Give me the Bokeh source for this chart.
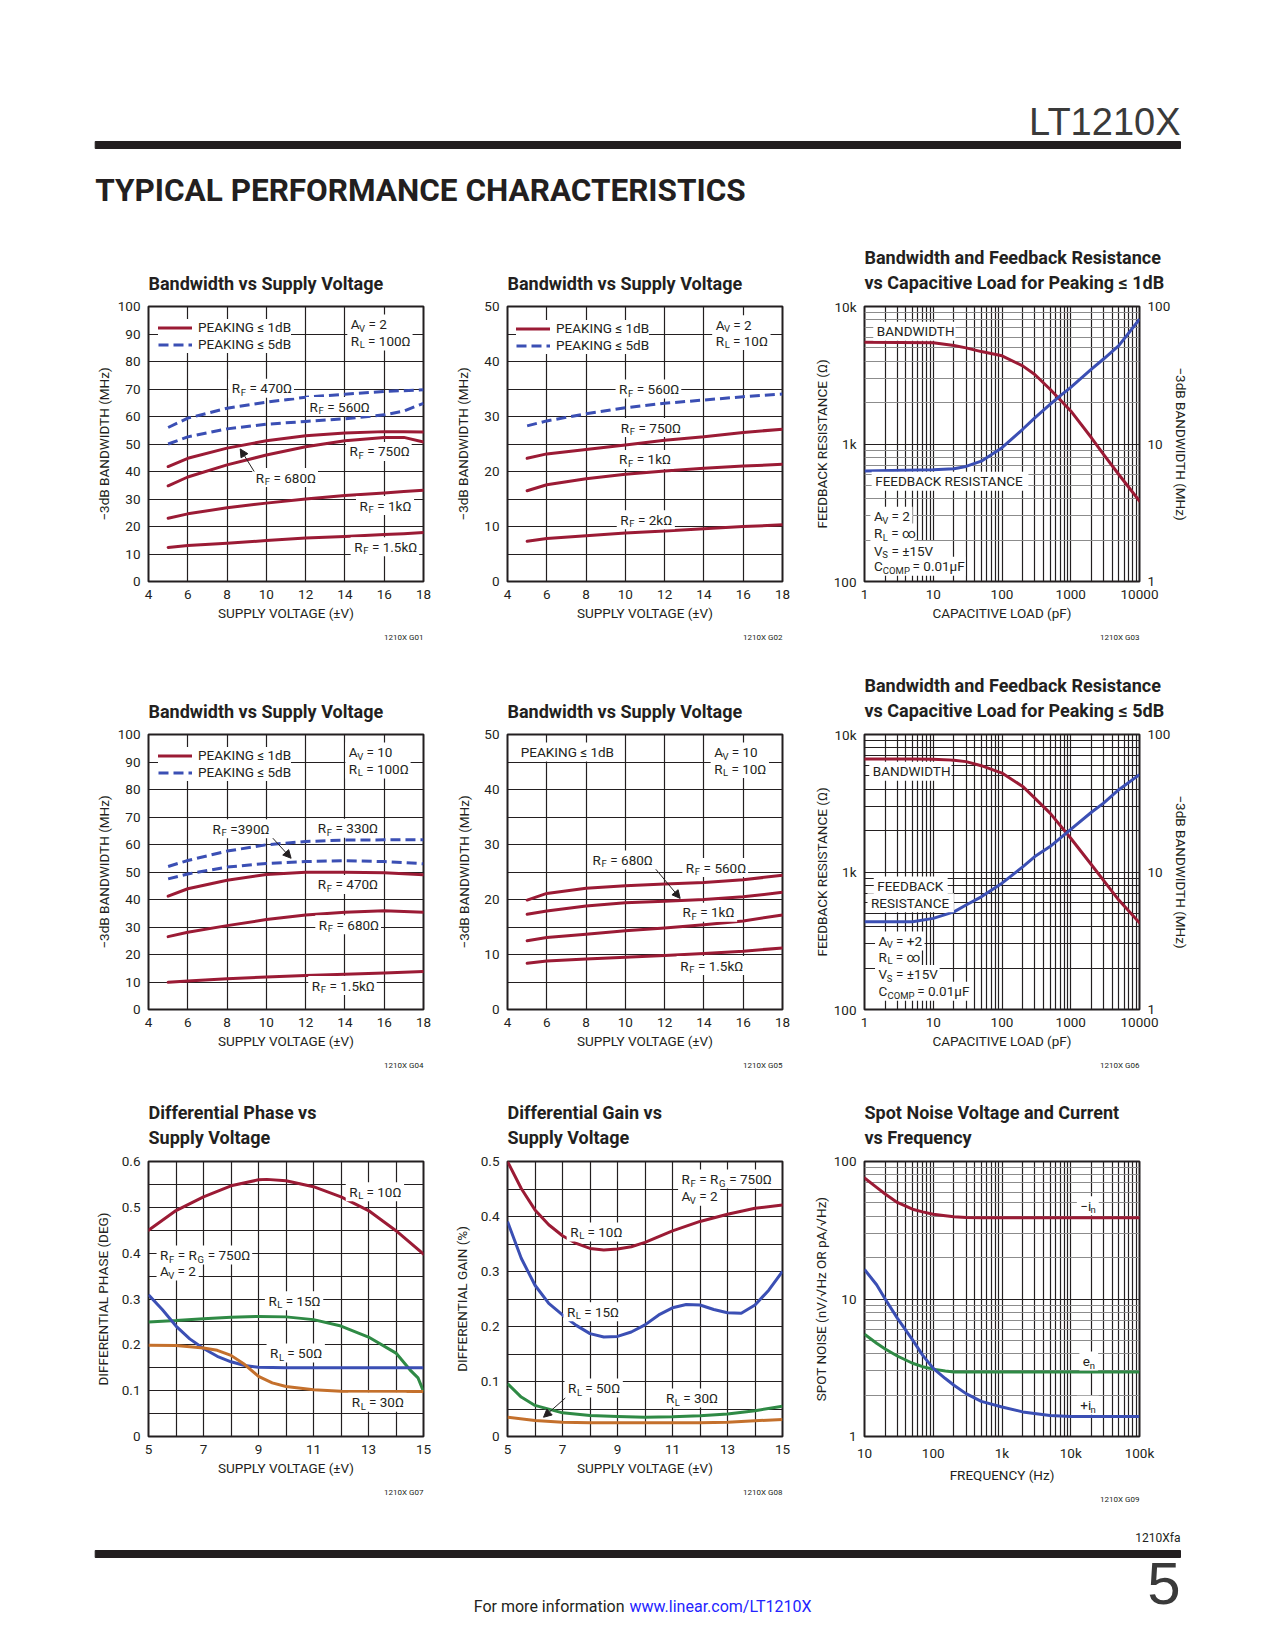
import re
import math
from bokeh.plotting import figure
from bokeh.models import (Range1d, FixedTicker, LogAxis, LogScale, Title, Legend,
                          LegendItem, Arrow, NormalHead, ColumnDataSource)
from bokeh.layouts import column, row
from bokeh.core.properties import value
from bokeh.embed import file_html
from bokeh.resources import INLINE

FONT = "Roboto"
WIDEFONT = "Liberation Sans"
TXT = "#231f20"
RED = "#9b1b35"
BLUE = "#3b4fb4"
GREEN = "#2f8a45"
ORANGE = "#c4702c"
LINK = "#2323ff"

# ------------------------------------------------------------------ data
# G01  Bandwidth vs Supply Voltage, AV=2, RL=100
V1 = [5, 6, 8, 10, 12, 14, 16, 17, 18]
G1_RF470_5DB = [56.0, 59.4, 63.0, 65.2, 67.0, 68.1, 69.1, 69.4, 69.7]
G1_RF560_5DB = [50.0, 52.6, 55.5, 57.2, 58.2, 59.2, 60.6, 62.0, 64.8]
G1_RF680_1DB = [41.8, 44.8, 48.5, 51.2, 53.0, 54.0, 54.5, 54.5, 54.4]
G1_RF750_1DB = [34.8, 38.0, 42.4, 46.0, 49.0, 51.2, 52.4, 52.4, 50.7]
G1_RF1K_1DB = [23.0, 24.6, 26.8, 28.5, 30.0, 31.3, 32.2, 32.7, 33.2]
G1_RF1K5_1DB = [12.4, 13.1, 13.9, 14.9, 15.8, 16.4, 17.1, 17.4, 17.8]

# G02  Bandwidth vs Supply Voltage, AV=2, RL=10
V2 = [5, 6, 8, 10, 12, 14, 16, 18]
G2_RF560_5DB = [28.3, 29.2, 30.5, 31.6, 32.4, 33.0, 33.6, 34.1]
G2_RF750_1DB = [22.4, 23.2, 24.0, 24.8, 25.7, 26.3, 27.1, 27.7]
G2_RF1K_1DB = [16.5, 17.6, 18.7, 19.5, 20.1, 20.6, 21.0, 21.3]
G2_RF2K_1DB = [7.3, 7.8, 8.3, 8.8, 9.2, 9.6, 10.0, 10.3]

# G03  BW and RF vs capacitive load, peaking <= 1dB
CL3 = [1, 10, 20, 30, 50, 100, 200, 300, 500, 700, 1000, 2000, 3000, 5000, 10000]
G3_BW = [55, 54.5, 52, 50, 47, 43.8, 37, 32, 25, 21, 17.4, 11.1, 8.4, 6.0, 3.84]
G3_RF = [635, 650, 660, 687, 750, 940, 1280, 1550, 1940, 2240, 2580, 3500, 4150, 5200, 8100]

# G04  Bandwidth vs Supply Voltage, AV=10, RL=100
V4 = [5, 6, 8, 10, 12, 14, 16, 18]
G4_RF330_5DB = [52.0, 54.2, 57.6, 59.9, 61.1, 61.6, 61.7, 61.7]
G4_RF390_5DB = [47.5, 49.3, 51.8, 53.1, 53.8, 54.1, 53.8, 53.0]
G4_RF470_1DB = [41.2, 43.9, 47.0, 49.1, 49.9, 49.9, 49.7, 49.0]
G4_RF680_1DB = [26.5, 28.1, 30.5, 32.7, 34.4, 35.4, 35.9, 35.4]
G4_RF1K5_1DB = [9.9, 10.4, 11.2, 11.8, 12.4, 12.8, 13.3, 13.8]

# G05  Bandwidth vs Supply Voltage, AV=10, RL=10
V5 = [5, 6, 8, 10, 12, 14, 16, 18]
G5_RF560 = [19.9, 21.1, 22.05, 22.5, 22.8, 23.1, 23.6, 24.4]
G5_RF680 = [17.3, 17.9, 18.8, 19.4, 19.7, 20.0, 20.5, 21.3]
G5_RF1K = [12.5, 13.1, 13.7, 14.3, 14.8, 15.4, 16.1, 17.2]
G5_RF1K5 = [8.4, 8.8, 9.2, 9.5, 9.8, 10.2, 10.6, 11.2]

# G06  BW and RF vs capacitive load, peaking <= 5dB
CL6 = [1, 5, 10, 20, 30, 50, 100, 200, 300, 500, 1000, 2000, 3000, 5000, 10000]
G6_BW = [66.4, 66.4, 66, 65, 63.5, 59.3, 52.4, 41.9, 34.5, 26.8, 17.6, 11.3, 8.7, 6.25, 4.27]
G6_RF = [434, 434, 460, 513, 575, 660, 830, 1090, 1294, 1530, 2040, 2720, 3170, 3970, 5110]

# G07  Differential phase vs supply voltage
G7_RL10_V = [5, 6, 7, 8, 9, 9.3, 10, 11, 12, 13, 14, 15]
G7_RL10 = [0.450, 0.493, 0.523, 0.547, 0.560, 0.561, 0.558, 0.545, 0.523, 0.493, 0.449, 0.398]
G7_RL15_V = [5, 6, 7, 8, 9, 10, 11, 12, 13, 14, 14.5, 14.8, 15]
G7_RL15 = [0.250, 0.253, 0.257, 0.260, 0.262, 0.261, 0.255, 0.241, 0.217, 0.182, 0.146, 0.128, 0.0985]
G7_RL50_V = [5, 5.5, 6, 6.5, 7, 7.5, 8, 8.5, 9, 10, 15]
G7_RL50 = [0.309, 0.277, 0.241, 0.213, 0.192, 0.175, 0.163, 0.155, 0.151, 0.150, 0.150]
G7_RL30_V = [5, 6, 7, 7.5, 8, 8.5, 9, 9.5, 10, 11, 12, 15]
G7_RL30 = [0.199, 0.1985, 0.193, 0.188, 0.177, 0.157, 0.131, 0.117, 0.109, 0.102, 0.0985, 0.098]

# G08  Differential gain vs supply voltage
G8_RL10_V = [5, 5.5, 6, 6.5, 7, 7.5, 8, 8.5, 9, 9.5, 10, 11, 12, 13, 14, 15]
G8_RL10 = [0.500, 0.451, 0.412, 0.385, 0.365, 0.351, 0.342, 0.339, 0.341, 0.345, 0.353,
           0.374, 0.391, 0.404, 0.415, 0.421]
G8_RL15_V = [5, 5.5, 6, 6.5, 7, 7.5, 8, 8.5, 9, 9.5, 10, 10.5, 11, 11.5, 12, 12.5, 13,
             13.5, 14, 14.5, 15]
G8_RL15 = [0.391, 0.324, 0.275, 0.242, 0.221, 0.202, 0.187, 0.181, 0.182, 0.190, 0.203,
           0.221, 0.234, 0.240, 0.239, 0.231, 0.225, 0.224, 0.239, 0.266, 0.300]
G8_RL50_V = [5, 5.5, 6, 7, 8, 9, 10, 11, 12, 13, 14, 15]
G8_RL50 = [0.096, 0.0717, 0.0565, 0.043, 0.038, 0.0365, 0.035, 0.036, 0.0377, 0.041, 0.047, 0.055]
G8_RL30_V = [5, 6, 7, 8, 10, 12, 13, 14, 15]
G8_RL30 = [0.035, 0.029, 0.026, 0.025, 0.025, 0.025, 0.026, 0.0286, 0.031]

# G09  Spot noise vs frequency
F9 = [10, 15, 20, 30, 50, 70, 100, 150, 200, 300, 500, 1000, 2000, 5000, 10000, 100000]
G9_NEG_IN = [75.9, 64.9, 58, 50.4, 45, 43, 41.4, 40.3, 39.6, 39.2, 39, 39, 39, 39, 39, 39]
G9_EN = [5.55, 4.77, 4.33, 3.85, 3.41, 3.22, 3.09, 3.0, 2.95, 2.95, 2.95, 2.95, 2.95, 2.95, 2.95, 2.95]
G9_POS_IN = [16.4, 12.7, 10.0, 7.26, 5.04, 3.91, 3.13, 2.64, 2.36, 2.05, 1.80, 1.64, 1.51, 1.42, 1.40, 1.40]

# tick labels
XT_V18 = [4, 6, 8, 10, 12, 14, 16, 18]
XL_V18 = ["4", "6", "8", "10", "12", "14", "16", "18"]
YT_100 = [0, 10, 20, 30, 40, 50, 60, 70, 80, 90, 100]
YL_100 = ["0", "10", "20", "30", "40", "50", "60", "70", "80", "90", "100"]
YT_50 = [0, 10, 20, 30, 40, 50]
YL_50 = ["0", "10", "20", "30", "40", "50"]
YM_50 = [5, 15, 25, 35, 45]
XT_CL = [1, 10, 100, 1000, 10000]
XL_CL = ["1", "10", "100", "1000", "10000"]
YT_RF = [100, 1000, 10000]
YL_RF = ["100", "1k", "10k"]
YT_BW = [1, 10, 100]
YL_BW = ["1", "10", "100"]
XT_V15 = [5, 7, 9, 11, 13, 15]
XL_V15 = ["5", "7", "9", "11", "13", "15"]
XM_V15 = [6, 8, 10, 12, 14]
YT_P6 = [0, 0.1, 0.2, 0.3, 0.4, 0.5, 0.6]
YL_P6 = ["0", "0.1", "0.2", "0.3", "0.4", "0.5", "0.6"]
YM_P6 = [0.05, 0.15, 0.25, 0.35, 0.45, 0.55]
YT_P5 = [0, 0.1, 0.2, 0.3, 0.4, 0.5]
YL_P5 = ["0", "0.1", "0.2", "0.3", "0.4", "0.5"]
YM_P5 = [0.05, 0.15, 0.25, 0.35, 0.45]
XT_F = [10, 100, 1000, 10000, 100000]
XL_F = ["10", "100", "1k", "10k", "100k"]
YT_N = [1, 10, 100]
YL_N = ["1", "10", "100"]


def log_minors(lo_exp, hi_exp):
    return [m * 10 ** e for e in range(lo_exp, hi_exp) for m in range(2, 10)]


# ------------------------------------------------------------------ helpers
CW = {' ': 278, '=': 584, 'R': 722, 'F': 611, 'L': 556, 'A': 667, 'V': 667, 'G': 778,
      'k': 500, 'Ω': 768, '.': 278, 'C': 722, 'O': 778, 'M': 833, 'P': 667, 'S': 667,
      'E': 667, 'I': 278, 'N': 722, 'K': 667, 'B': 667, 'D': 722, 'W': 944, 'T': 611,
      'H': 722, 'µ': 556, 'n': 556, 'e': 556, 'i': 222, '+': 584, '−': 584, '±': 584,
      '∞': 713, '≤': 549, 'd': 556}
LBL = 13.5
SUB = 9.5
FS = "13.5px"
FRAME = 275


def tw(s, size):
    return sum(CW.get(c, 556) for c in s) * 0.92 * size / 1000.0


def shift_x(p, x, px):
    x0, x1 = p.x_range.start, p.x_range.end
    if isinstance(p.x_scale, LogScale):
        return x * 10 ** (px * math.log10(x1 / x0) / FRAME)
    return x + px * (x1 - x0) / FRAME


def add_labels(p, items, size=LBL, subsize=SUB):
    main = {"x": [], "y": [], "t": [], "xo": []}
    sub = {"x": [], "y": [], "t": [], "xo": []}
    box = {"x": [], "y": [], "w": []}
    for x, y, s, align in items:
        segs = []
        for a, b in re.findall(r"\{([^}]*)\}|([^{]+)", s):
            segs.append((a, True) if a else (b, False))
        ws = [tw(t, subsize if sb else size) for t, sb in segs]
        tot = sum(ws)
        off = {"left": 0.0, "center": -tot / 2.0, "right": -tot}[align]
        box["x"].append(shift_x(p, x, off + tot / 2.0))
        box["y"].append(y)
        box["w"].append(tot + 7)
        for (t, sb), w in zip(segs, ws):
            lead = len(t) - len(t.lstrip(" "))
            d = sub if sb else main
            d["x"].append(x)
            d["y"].append(y)
            d["t"].append(t.strip(" "))
            d["xo"].append(off + tw(" " * lead, size))
            off += w
    p.rect(x="x", y="y", width="w", height=19, width_units="screen", height_units="screen",
           source=ColumnDataSource(box), fill_color="white", line_color=None)
    common = dict(x="x", y="y", text="t", x_offset="xo", text_font=value(FONT),
                  text_color=TXT, text_baseline="middle", text_align="left")
    p.text(source=ColumnDataSource(main), text_font_size=f"{size}px", **common)
    if sub["x"]:
        p.text(source=ColumnDataSource(sub), text_font_size=f"{subsize}px", y_offset=4,
               **common)


def add_arrow(p, xs, ys, xe, ye):
    p.add_layout(Arrow(end=NormalHead(size=8, fill_color=TXT, line_color=TXT, line_width=1),
                       x_start=xs, y_start=ys, x_end=xe, y_end=ye,
                       line_color=TXT, line_width=1))


# page grid: header 0-226, rows of 428 px, footer 1510-1650
LB = [148, 62, 59]
RB = [22, 23, 128]
TB = [80, 80, 79]
BB = [73, 73, 74]


def style_axis(ax):
    ax.axis_line_color = None
    ax.major_tick_line_color = None
    ax.minor_tick_line_color = None
    ax.major_tick_in = 0
    ax.major_tick_out = 0
    ax.minor_tick_in = 0
    ax.minor_tick_out = 0
    ax.major_label_standoff = 8
    ax.major_label_text_font = FONT
    ax.major_label_text_font_size = FS
    ax.major_label_text_color = TXT
    ax.axis_label_text_font = FONT
    ax.axis_label_text_font_size = FS
    ax.axis_label_text_font_style = "normal"
    ax.axis_label_text_color = TXT


def base_fig(ci, ri, xr, yr, title, code, xlabel, ylabel, ystand,
             xlog=False, ylog=False, bw=None):
    kw = {}
    if bw is not None:
        kw = dict(extra_y_ranges={"bw": Range1d(*bw)}, extra_y_scales={"bw": LogScale()})
    p = figure(width=LB[ci] + FRAME + RB[ci], height=TB[ri] + FRAME + BB[ri],
               min_border_left=LB[ci], min_border_right=RB[ci],
               min_border_top=TB[ri], min_border_bottom=BB[ri],
               x_range=Range1d(*xr), y_range=Range1d(*yr),
               x_axis_type="log" if xlog else "linear",
               y_axis_type="log" if ylog else "linear",
               title=title, toolbar_location=None, output_backend="svg", **kw)
    t = p.title
    t.align = "left"
    t.text_font = FONT
    t.text_font_size = "18px"
    t.text_font_style = "bold"
    t.text_color = TXT
    t.standoff = 26
    t.text_line_height = 1.2
    p.add_layout(Title(text=code, align="right", text_font=FONT, text_font_size="8px",
                       text_font_style="normal", text_color=TXT, standoff=14), "below")
    p.outline_line_color = TXT
    p.outline_line_width = 2
    p.outline_line_alpha = 1
    p.background_fill_color = "white"
    p.border_fill_color = "white"
    p.xaxis.axis_label = xlabel
    p.left[0].axis_label = ylabel
    if bw is not None:
        ax2 = LogAxis(y_range_name="bw", axis_label="−3dB BANDWIDTH (MHz)")
        p.add_layout(ax2, "right")
    for ax in p.axis:
        style_axis(ax)
    p.xaxis.axis_label_standoff = 3
    p.left[0].axis_label_standoff = ystand
    if bw is not None:
        p.right[0].axis_label_standoff = 0
        tk = FixedTicker(ticks=YT_BW, minor_ticks=[])
        p.right[0].ticker = tk
        p.right[0].major_label_overrides = {float(v): s for v, s in zip(YT_BW, YL_BW)}
    return p


def set_grid(p, xt, xm, xl, yt, ym, yl, yminor_color=TXT):
    xtk = FixedTicker(ticks=xt, minor_ticks=xm)
    ytk = FixedTicker(ticks=yt, minor_ticks=ym)
    p.xaxis.ticker = xtk
    p.left[0].ticker = ytk
    p.xaxis.major_label_overrides = {float(v): s for v, s in zip(xt, xl)}
    p.left[0].major_label_overrides = {float(v): s for v, s in zip(yt, yl)}
    p.xgrid.ticker = xtk
    p.ygrid.ticker = ytk
    for g in p.grid:
        g.grid_line_color = TXT
        g.grid_line_width = 1.2
        g.minor_grid_line_color = TXT
        g.minor_grid_line_width = 1.2
    p.ygrid.minor_grid_line_color = yminor_color


def add_legend(p, r1, r2, loc):
    leg = Legend(items=[LegendItem(label="PEAKING ≤ 1dB", renderers=[r1]),
                        LegendItem(label="PEAKING ≤ 5dB", renderers=[r2])],
                 location=loc, label_text_font=FONT, label_text_font_size=FS,
                 label_text_color=TXT, glyph_width=34, glyph_height=17, label_height=17,
                 label_standoff=6, padding=4, spacing=0, margin=0,
                 border_line_color=None, background_fill_color="white",
                 background_fill_alpha=1.0)
    p.add_layout(leg, "center")


SOLID = dict(line_width=3, line_color=RED, line_join="round", line_cap="round")
DASH = dict(line_width=3, line_color=BLUE, line_dash="10 5")
XLBL_V = "SUPPLY VOLTAGE (±V)"
YLBL_BW = "−3dB BANDWIDTH (MHz)"

# ------------------------------------------------------------------ G01
p1 = base_fig(0, 0, (4, 18), (0, 100), "Bandwidth vs Supply Voltage", "1210X G01",
              XLBL_V, YLBL_BW, 3)
set_grid(p1, XT_V18, [], XL_V18, YT_100, [], YL_100)
d1 = p1.line(V1, G1_RF470_5DB, **DASH)
p1.line(V1, G1_RF560_5DB, **DASH)
s1 = p1.line(V1, G1_RF680_1DB, **SOLID)
p1.line(V1, G1_RF750_1DB, **SOLID)
p1.line(V1, G1_RF1K_1DB, **SOLID)
p1.line(V1, G1_RF1K5_1DB, **SOLID)
add_legend(p1, s1, d1, (10, 228.5))
add_arrow(p1, 9.38, 40.0, 8.67, 48.2)
add_labels(p1, [(8.24, 70.3, "R{F} = 470Ω", "left"), (12.2, 63.6, "R{F} = 560Ω", "left"),
                (14.23, 47.3, "R{F} = 750Ω", "left"), (9.46, 37.8, "R{F} = 680Ω", "left"),
                (14.74, 27.6, "R{F} = 1kΩ", "left"), (14.47, 12.6, "R{F} = 1.5kΩ", "left"),
                (14.3, 93.6, "A{V} = 2", "left"), (14.3, 87.5, "R{L} = 100Ω", "left")])

# ------------------------------------------------------------------ G02
p2 = base_fig(1, 0, (4, 18), (0, 50), "Bandwidth vs Supply Voltage", "1210X G02",
              XLBL_V, YLBL_BW, 10)
set_grid(p2, XT_V18, [], XL_V18, YT_50, YM_50, YL_50)
d2 = p2.line(V2, G2_RF560_5DB, **DASH)
s2 = p2.line(V2, G2_RF750_1DB, **SOLID)
p2.line(V2, G2_RF1K_1DB, **SOLID)
p2.line(V2, G2_RF2K_1DB, **SOLID)
add_legend(p2, s2, d2, (9, 227.5))
add_labels(p2, [(9.68, 35.0, "R{F} = 560Ω", "left"), (9.77, 28.0, "R{F} = 750Ω", "left"),
                (9.68, 22.2, "R{F} = 1kΩ", "left"), (9.74, 11.25, "R{F} = 2kΩ", "left"),
                (14.6, 46.7, "A{V} = 2", "left"), (14.6, 43.8, "R{L} = 10Ω", "left")])

# ------------------------------------------------------------------ G03
p3 = base_fig(2, 0, (1, 10000), (100, 10000),
              "Bandwidth and Feedback Resistance\nvs Capacitive Load for Peaking ≤ 1dB",
              "1210X G03", "CAPACITIVE LOAD (pF)", "FEEDBACK RESISTANCE (Ω)", 1,
              xlog=True, ylog=True, bw=(1, 100))
set_grid(p3, XT_CL, log_minors(0, 4), XL_CL, YT_RF, log_minors(2, 4), YL_RF, "#8c8c8c")
p3.line(CL3, G3_BW, y_range_name="bw", **SOLID)
p3.line(CL3, G3_RF, line_width=3, line_color=BLUE)
add_labels(p3, [(1.51, 6610, "BANDWIDTH", "left"), (1.43, 537, "FEEDBACK RESISTANCE", "left"),
                (1.37, 298, "A{V} = 2", "left"), (1.37, 225, "R{L} = ∞", "left"),
                (1.37, 168, "V{S} = ±15V", "left"), (1.37, 129, "C{COMP} = 0.01µF", "left")])

# ------------------------------------------------------------------ G04
p4 = base_fig(0, 1, (4, 18), (0, 100), "Bandwidth vs Supply Voltage", "1210X G04",
              XLBL_V, YLBL_BW, 3)
set_grid(p4, XT_V18, [], XL_V18, YT_100, [], YL_100)
d4 = p4.line(V4, G4_RF330_5DB, **DASH)
p4.line(V4, G4_RF390_5DB, **DASH)
s4 = p4.line(V4, G4_RF470_1DB, **SOLID)
p4.line(V4, G4_RF680_1DB, **SOLID)
p4.line(V4, G4_RF1K5_1DB, **SOLID)
add_legend(p4, s4, d4, (10, 228.5))
add_arrow(p4, 10.33, 62.3, 11.26, 55.0)
add_labels(p4, [(7.26, 65.7, "R{F} =390Ω", "left"), (12.62, 65.9, "R{F} = 330Ω", "left"),
                (12.62, 45.5, "R{F} = 470Ω", "left"), (12.67, 30.8, "R{F} = 680Ω", "left"),
                (12.31, 8.7, "R{F} = 1.5kΩ", "left"),
                (14.2, 93.6, "A{V} = 10", "left"), (14.2, 87.5, "R{L} = 100Ω", "left")])

# ------------------------------------------------------------------ G05
p5 = base_fig(1, 1, (4, 18), (0, 50), "Bandwidth vs Supply Voltage", "1210X G05",
              XLBL_V, YLBL_BW, 9)
set_grid(p5, XT_V18, [], XL_V18, YT_50, YM_50, YL_50)
p5.line(V5, G5_RF560, **SOLID)
p5.line(V5, G5_RF680, **SOLID)
p5.line(V5, G5_RF1K, **SOLID)
p5.line(V5, G5_RF1K5, **SOLID)
add_arrow(p5, 11.55, 25.5, 12.79, 20.2)
add_labels(p5, [(4.68, 46.8, "PEAKING ≤ 1dB", "left"),
                (14.52, 46.8, "A{V} = 10", "left"), (14.52, 43.8, "R{L} = 10Ω", "left"),
                (8.33, 27.2, "R{F} = 680Ω", "left"), (13.08, 25.8, "R{F} = 560Ω", "left"),
                (12.91, 17.7, "R{F} = 1kΩ", "left"), (12.79, 8.0, "R{F} = 1.5kΩ", "left")])

# ------------------------------------------------------------------ G06
p6 = base_fig(2, 1, (1, 10000), (100, 10000),
              "Bandwidth and Feedback Resistance\nvs Capacitive Load for Peaking ≤ 5dB",
              "1210X G06", "CAPACITIVE LOAD (pF)", "FEEDBACK RESISTANCE (Ω)", 1,
              xlog=True, ylog=True, bw=(1, 100))
set_grid(p6, XT_CL, log_minors(0, 4), XL_CL, YT_RF, log_minors(2, 4), YL_RF)
p6.line(CL6, G6_BW, y_range_name="bw", **SOLID)
p6.line(CL6, G6_RF, line_width=3, line_color=BLUE)
add_labels(p6, [(1.32, 5400, "BANDWIDTH", "left"), (4.7, 790, "FEEDBACK", "center"),
                (4.7, 597, "RESISTANCE", "center"),
                (1.6, 315, "A{V} = +2", "left"), (1.6, 241, "R{L} = ∞", "left"),
                (1.6, 180, "V{S} = ±15V", "left"), (1.6, 136, "C{COMP} = 0.01µF", "left")])

# ------------------------------------------------------------------ G07
p7 = base_fig(0, 2, (5, 15), (0, 0.6), "Differential Phase vs\nSupply Voltage", "1210X G07",
              XLBL_V, "DIFFERENTIAL PHASE (DEG)", 8)
set_grid(p7, XT_V15, XM_V15, XL_V15, YT_P6, YM_P6, YL_P6)
p7.line(G7_RL10_V, G7_RL10, **SOLID)
p7.line(G7_RL15_V, G7_RL15, line_width=3, line_color=GREEN)
p7.line(G7_RL50_V, G7_RL50, line_width=3, line_color=BLUE)
p7.line(G7_RL30_V, G7_RL30, line_width=3, line_color=ORANGE)
add_labels(p7, [(12.3, 0.534, "R{L} = 10Ω", "left"), (5.42, 0.396, "R{F} = R{G} = 750Ω", "left"),
                (5.42, 0.361, "A{V} = 2", "left"), (9.36, 0.296, "R{L} = 15Ω", "left"),
                (9.42, 0.182, "R{L} = 50Ω", "left"), (12.39, 0.075, "R{L} = 30Ω", "left")])

# ------------------------------------------------------------------ G08
p8 = base_fig(1, 2, (5, 15), (0, 0.5), "Differential Gain vs\nSupply Voltage", "1210X G08",
              XLBL_V, "DIFFERENTIAL GAIN (%)", 8)
set_grid(p8, XT_V15, XM_V15, XL_V15, YT_P5, YM_P5, YL_P5)
p8.line(G8_RL10_V, G8_RL10, **SOLID)
p8.line(G8_RL15_V, G8_RL15, line_width=3, line_color=BLUE)
p8.line(G8_RL50_V, G8_RL50, line_width=3, line_color=GREEN)
p8.line(G8_RL30_V, G8_RL30, line_width=3, line_color=ORANGE)
add_arrow(p8, 7.10, 0.0699, 6.31, 0.035)
add_labels(p8, [(11.33, 0.468, "R{F} = R{G} = 750Ω", "left"), (11.33, 0.437, "A{V} = 2", "left"),
                (7.28, 0.372, "R{L} = 10Ω", "left"), (7.16, 0.227, "R{L} = 15Ω", "left"),
                (7.2, 0.088, "R{L} = 50Ω", "left"), (10.76, 0.07, "R{L} = 30Ω", "left")])

# ------------------------------------------------------------------ G09
p9 = base_fig(2, 2, (10, 100000), (1, 100), "Spot Noise Voltage and Current\nvs Frequency",
              "1210X G09", "FREQUENCY (Hz)", "SPOT NOISE (nV/√Hz OR pA/√Hz)", 2,
              xlog=True, ylog=True)
set_grid(p9, XT_F, log_minors(1, 5), XL_F, YT_N, log_minors(0, 2), YL_N, "#8c8c8c")
p9.line(F9, G9_NEG_IN, **SOLID)
p9.line(F9, G9_EN, line_width=3, line_color=GREEN)
p9.line(F9, G9_POS_IN, line_width=3, line_color=BLUE)
add_labels(p9, [(13800, 47.7, "−i{n}", "left"), (15000, 3.54, "e{n}", "left"),
                (13800, 1.69, "+i{n}", "left")])

# ------------------------------------------------------------------ header / footer


def page_fig(h, y0):
    f = figure(width=1267, height=h, min_border=0, title=None,
               x_range=Range1d(0, 1267), y_range=Range1d(y0 + h, y0),
               x_axis_location=None, y_axis_location=None,
               toolbar_location=None, output_backend="svg")
    f.grid.visible = False
    f.outline_line_color = None
    f.background_fill_color = "white"
    f.border_fill_color = "white"
    return f


hdr = page_fig(226, 0)
hdr.text(x=[1180], y=[121], text=["LT1210X"], text_align="right", text_baseline="middle",
         text_font=value(WIDEFONT), text_font_size="38px", text_color="#3a3a3a")
hdr.quad(left=[94.7], right=[1180], top=[141], bottom=[148], color=TXT)
hdr.text(x=[94.7], y=[190], text=["TYPICAL PERFORMANCE CHARACTERISTICS"], text_align="left",
         text_baseline="middle", text_font=value(FONT), text_font_size="31.5px",
         text_font_style="bold", text_color=TXT)

ftr = page_fig(140, 1510)
ftr.text(x=[1180], y=[1537.5], text=["1210Xfa"], text_align="right", text_baseline="middle",
         text_font=value(FONT), text_font_size="12px", text_color=TXT)
ftr.quad(left=[94.7], right=[1180], top=[1550], bottom=[1557], color=TXT)
ftr.text(x=[1180], y=[1583], text=["5"], text_align="right", text_baseline="middle",
         text_font=value(WIDEFONT), text_font_size="60px", text_color="#3a3a3a")
ftr.text(x=[624], y=[1605.5], text=["For more information"], text_align="right",
         text_baseline="middle", text_font=value(FONT), text_font_size="16px",
         text_color=TXT)
ftr.text(x=[629], y=[1605.5], text=["www.linear.com/LT1210X"], text_align="left",
         text_baseline="middle", text_font=value(FONT), text_font_size="16px",
         text_color=LINK)

page = column([hdr,
               row([p1, p2, p3], spacing=0),
               row([p4, p5, p6], spacing=0),
               row([p7, p8, p9], spacing=0),
               ftr], spacing=0)

open("out.html", "w").write(file_html(page, INLINE, title="LT1210X"))
